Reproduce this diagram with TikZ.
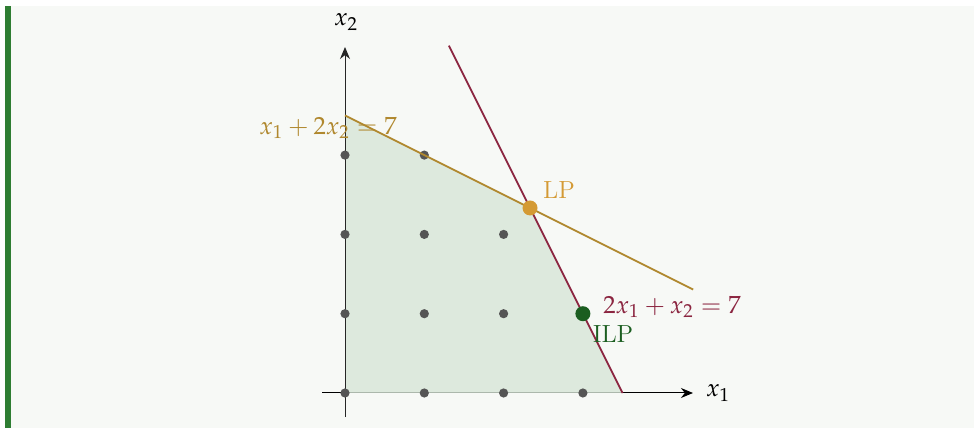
\documentclass[tikz,border=0pt]{standalone}
\usepackage{mathpazo}
\usetikzlibrary{arrows.meta}
\definecolor{bgc}{RGB}{247,249,246}
\definecolor{barc}{RGB}{46,125,50}
\definecolor{regc}{RGB}{215,230,215}
\definecolor{goldl}{RGB}{176,136,46}
\definecolor{lpc}{RGB}{212,154,52}
\definecolor{crim}{RGB}{139,37,64}
\definecolor{ilpc}{RGB}{27,94,32}
\definecolor{dotc}{RGB}{85,85,85}
\tikzset{
  axis/.style={draw=black,line width=0.5pt,-{Stealth[length=6pt,width=5pt]}},
  gdot/.style={circle,fill=dotc,inner sep=0pt,minimum size=4.6pt},
  bdot/.style={circle,inner sep=0pt,minimum size=7.5pt},
  cline/.style={line width=0.85pt},
  lbl/.style={inner sep=0pt,font=\fontsize{12.4}{14}\selectfont}
}
\begin{document}
\begin{tikzpicture}[x=39.65pt,y=39.65pt]
\useasboundingbox (-4.3506,-0.4414) rectangle (7.9319,4.9559);
\fill[white] (-4.3506,-0.4414) rectangle (7.9319,4.9559);
\fill[bgc] (-4.288,-0.4414) rectangle (7.9319,4.880);
\fill[barc] (-4.288,-0.4414) rectangle (-4.212,4.880);
% axes and region
\coordinate (xs) at (-0.29,0);
\coordinate (xe) at (4.388,0);
\coordinate (ys) at (0,-0.303);
\coordinate (ye) at (0,4.363);
\draw[axis] (xs) -- (xe);
\coordinate (o) at (0,0);
\coordinate (a) at (0,3.5);
\coordinate (lp) at (7/3,7/3);
\coordinate (b) at (3.5,0);
\fill[regc,fill opacity=0.8] (o) -- (a) -- (lp) -- (b) -- cycle;
\draw[axis,draw=black!85] (ys) -- (ye);
\node[lbl] (x1) at (4.704,0) {$x_1$};
\node[lbl] (x2) at (0.013,4.678) {$x_2$};
% lattice points
\foreach \i/\j in {0/0,1/0,2/0,3/0,0/1,1/1,2/1,0/2,1/2,2/2,0/3,1/3}
  \node[gdot] (p\i\j) at (\i,\j) {};
% constraint lines
\coordinate (l1s) at (0,3.5);
\coordinate (l1e) at (4.39,1.305);
\coordinate (l2s) at (1.31,4.38);
\coordinate (l2e) at (3.5,0);
\draw[cline,goldl] (l1s) -- (l1e);
\draw[cline,crim] (l2s) -- (l2e);
\node[bdot,fill=lpc] (LP) at (lp) {};
\node[bdot,fill=ilpc] (ILP) at (3,1) {};
\node[lbl,text=goldl] (c1) at (-0.214,3.342) {$x_1+2x_2=7$};
\node[lbl,text=lpc] (lpl) at (2.699,2.56) {LP};
\node[lbl,text=crim] (c2) at (4.124,1.084) {$2x_1+x_2=7$};
\node[lbl,text=ilpc] (ilpl) at (3.38,0.744) {ILP};
\end{tikzpicture}
\end{document}
